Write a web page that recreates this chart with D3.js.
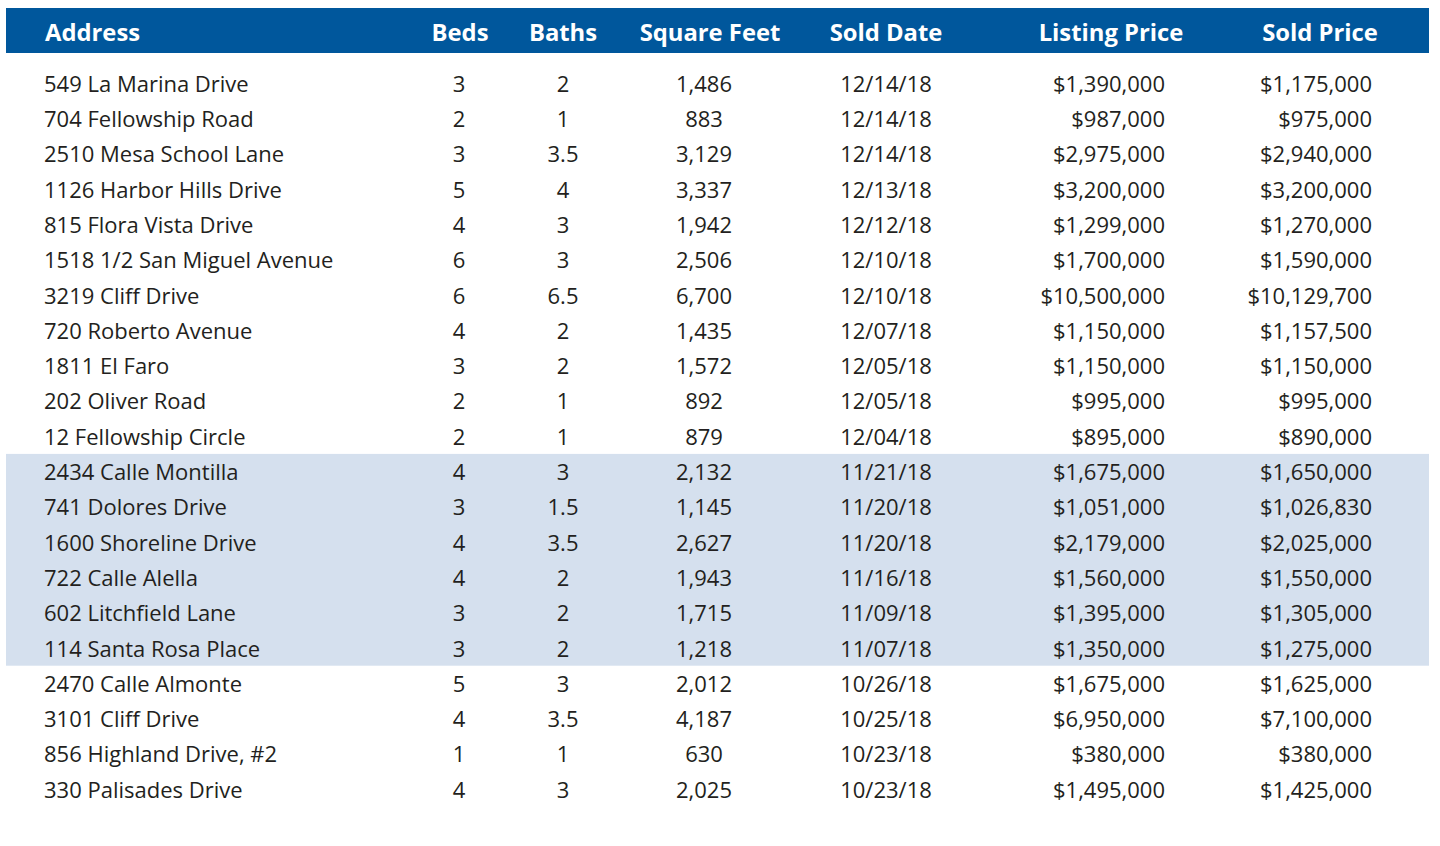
<!DOCTYPE html>
<html><head><meta charset="utf-8">
<script src="https://cdn.jsdelivr.net/npm/d3@7"></script>
<style>html,body{margin:0;padding:0;background:#fff;}svg{display:block;}</style>
</head><body>
<svg id="chart" width="1440" height="846"></svg>
<script>
const columns = ["Address","Beds","Baths","Square Feet","Sold Date","Listing Price","Sold Price"];
const addresses = ["549 La Marina Drive","704 Fellowship Road","2510 Mesa School Lane","1126 Harbor Hills Drive","815 Flora Vista Drive","1518 1/2 San Miguel Avenue","3219 Cliff Drive","720 Roberto Avenue","1811 El Faro","202 Oliver Road","12 Fellowship Circle","2434 Calle Montilla","741 Dolores Drive","1600 Shoreline Drive","722 Calle Alella","602 Litchfield Lane","114 Santa Rosa Place","2470 Calle Almonte","3101 Cliff Drive","856 Highland Drive, #2","330 Palisades Drive"];
const beds = [3,2,3,5,4,6,6,4,3,2,2,4,3,4,4,3,3,5,4,1,4];
const baths = [2,1,3.5,4,3,3,6.5,2,2,1,1,3,1.5,3.5,2,2,2,3,3.5,1,3];
const squareFeet = [1486,883,3129,3337,1942,2506,6700,1435,1572,892,879,2132,1145,2627,1943,1715,1218,2012,4187,630,2025];
const soldDates = ["12/14/18","12/14/18","12/14/18","12/13/18","12/12/18","12/10/18","12/10/18","12/07/18","12/05/18","12/05/18","12/04/18","11/21/18","11/20/18","11/20/18","11/16/18","11/09/18","11/07/18","10/26/18","10/25/18","10/23/18","10/23/18"];
const listingPrices = [1390000,987000,2975000,3200000,1299000,1700000,10500000,1150000,1150000,995000,895000,1675000,1051000,2179000,1560000,1395000,1350000,1675000,6950000,380000,1495000];
const soldPrices = [1175000,975000,2940000,3200000,1270000,1590000,10129700,1157500,1150000,995000,890000,1650000,1026830,2025000,1550000,1305000,1275000,1625000,7100000,380000,1425000];
const highlightMonth = "11";

const svg = d3.select("#chart");
const FONT = "'Open Sans', sans-serif";
const textColor = "#231f20";
const blue = "#00579c";
const band = "#d5e0ee";
const left = 6, right = 1429;

const rows = addresses.map((a,i)=>({i, a, beds:beds[i], baths:baths[i], sq:squareFeet[i], date:soldDates[i], lp:listingPrices[i], sp:soldPrices[i]}));

const y = d3.scaleBand().domain(d3.range(rows.length)).range([65.6, 65.6 + 35.3*rows.length]).padding(0);

const fmtSq = d3.format(",");
const fmtPrice = d3.format("$,");
const fmtBath = d3.format("~g");

const cols = [
  {key:"Address", x:44, anchor:"start", hx:45, hanchor:"start", v:d=>d.a},
  {key:"Beds", x:459, anchor:"middle", hx:460, hanchor:"middle", v:d=>d.beds},
  {key:"Baths", x:563, anchor:"middle", hx:563, hanchor:"middle", v:d=>fmtBath(d.baths)},
  {key:"Square Feet", x:704, anchor:"middle", hx:710, hanchor:"middle", v:d=>fmtSq(d.sq)},
  {key:"Sold Date", x:886, anchor:"middle", hx:886, hanchor:"middle", v:d=>d.date},
  {key:"Listing Price", x:1165, anchor:"end", hx:1111, hanchor:"middle", v:d=>fmtPrice(d.lp)},
  {key:"Sold Price", x:1372, anchor:"end", hx:1320, hanchor:"middle", v:d=>fmtPrice(d.sp)}
];

// header
svg.append("rect").attr("x",left).attr("y",8).attr("width",right-left).attr("height",45).attr("fill",blue);
svg.selectAll("text.header").data(cols).join("text")
  .attr("class","header")
  .attr("x",d=>d.hx).attr("y",32)
  .attr("text-anchor",d=>d.hanchor)
  .attr("dominant-baseline","central")
  .attr("font-family",FONT).attr("font-weight",700).attr("font-size",23.8)
  .attr("fill","#fff")
  .text(d=>d.key);

// highlight band for November sales
const hl = rows.filter(r=>r.date.slice(0,2)===highlightMonth);
if (hl.length){
  const y0 = y(hl[0].i), y1 = y(hl[hl.length-1].i)+y.bandwidth();
  svg.append("rect").attr("x",left).attr("y",y0).attr("width",right-left).attr("height",y1-y0).attr("fill",band);
}

// cells
const g = svg.selectAll("g.row").data(rows).join("g").attr("class","row")
  .attr("transform",d=>`translate(0,${y(d.i)+y.bandwidth()/2})`);
cols.forEach(c=>{
  g.append("text")
    .attr("x",c.x).attr("y",-0.5)
    .attr("text-anchor",c.anchor)
    .attr("dominant-baseline","central")
    .attr("font-family",FONT).attr("font-size",22)
    .attr("fill",textColor)
    .text(d=>c.v(d));
});
</script>
</body></html>
